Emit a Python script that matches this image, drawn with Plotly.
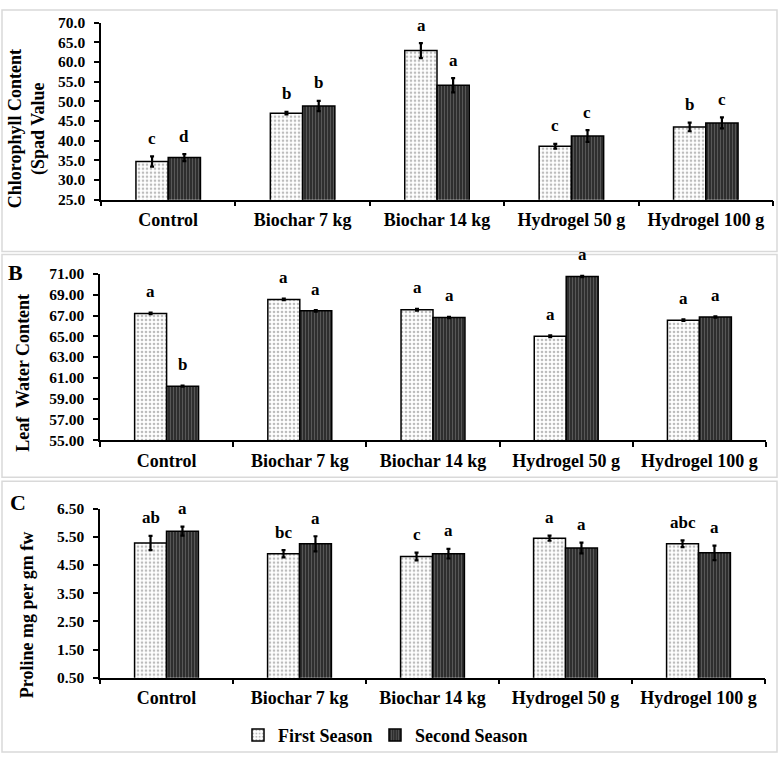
import plotly.graph_objects as go

categories = ["Control", "Biochar 7 kg", "Biochar 14 kg", "Hydrogel 50 g", "Hydrogel 100 g"]
series_names = ["First Season", "Second Season"]

# Panel A: Chlorophyll content (SPAD)
chl_first = [34.7, 47.0, 62.9, 38.6, 43.5]
chl_second = [35.7, 48.8, 54.1, 41.2, 44.5]
chl_first_err = [1.3, 0.3, 1.9, 0.6, 1.1]
chl_second_err = [0.9, 1.3, 1.8, 1.5, 1.4]
chl_first_letters = ["c", "b", "a", "c", "b"]
chl_second_letters = ["d", "b", "a", "c", "c"]

# Panel B: Leaf water content
lwc_first = [67.2, 68.55, 67.55, 65.0, 66.55]
lwc_second = [60.2, 67.45, 66.8, 70.75, 66.85]
lwc_first_err = [0.08, 0.08, 0.08, 0.08, 0.08]
lwc_second_err = [0.06, 0.08, 0.06, 0.06, 0.06]
lwc_first_letters = ["a", "a", "a", "a", "a"]
lwc_second_letters = ["b", "a", "a", "a", "a"]

# Panel C: Proline
pro_first = [5.28, 4.9, 4.8, 5.45, 5.25]
pro_second = [5.7, 5.25, 4.9, 5.1, 4.93]
pro_first_err = [0.25, 0.13, 0.14, 0.09, 0.12]
pro_second_err = [0.16, 0.27, 0.17, 0.19, 0.26]
pro_first_letters = ["ab", "bc", "c", "a", "abc"]
pro_second_letters = ["a", "a", "a", "a", "a"]

W, H = 780, 762
FONT = "'Liberation Serif', 'Times New Roman', serif"


def px_x(x):
    return x / W


def px_y(y):
    return 1 - y / H


def bold(s):
    return "<b>" + s + "</b>"


panels = [
    dict(first=chl_first, second=chl_second, fe=chl_first_err, se=chl_second_err,
         fl=chl_first_letters, sl=chl_second_letters,
         xdom=[px_x(101), px_x(773)], ydom=[px_y(195), px_y(14)],
         yrange=[25, 70], dtick=5, fmt=".1f", shift=18),
    dict(first=lwc_first, second=lwc_second, fe=lwc_first_err, se=lwc_second_err,
         fl=lwc_first_letters, sl=lwc_second_letters,
         xdom=[px_x(100), px_x(766)], ydom=[px_y(441), px_y(271)],
         yrange=[55, 71], dtick=2, fmt=".2f", shift=21),
    dict(first=pro_first, second=pro_second, fe=pro_first_err, se=pro_second_err,
         fl=pro_first_letters, sl=pro_second_letters,
         xdom=[px_x(100), px_x(765)], ydom=[px_y(684), px_y(511)],
         yrange=[0.5, 6.5], dtick=1, fmt=".2f", shift=18),
]

fig = go.Figure()
annotations = []
layout_axes = {}

first_pattern = dict(shape=".", fgcolor="#7a7a7a", bgcolor="white", size=4, solidity=0.35)
second_pattern = dict(shape="|", fgcolor="#8a8a8a", bgcolor="#2e2e2e", size=3, solidity=0.3)

for i, p in enumerate(panels):
    n = "" if i == 0 else str(i + 1)
    xa, ya = "x" + n, "y" + n
    fig.add_trace(go.Bar(
        x=categories, y=p["first"], name=bold(series_names[0]), xaxis=xa, yaxis=ya,
        marker=dict(color="white", line=dict(color="black", width=1.5), pattern=first_pattern),
        error_y=dict(type="data", array=p["fe"], color="black", thickness=2.2, width=2),
        showlegend=(i == 2), legendgroup="first", legend="legend",
    ))
    fig.add_trace(go.Bar(
        x=categories, y=p["second"], name=bold(series_names[1]), xaxis=xa, yaxis=ya,
        marker=dict(color="#2e2e2e", line=dict(color="black", width=1.5), pattern=second_pattern),
        error_y=dict(type="data", array=p["se"], color="black", thickness=2.2, width=2),
        showlegend=(i == 2), legendgroup="second", legend="legend2",
    ))
    yticks = []
    v = p["yrange"][0]
    while v <= p["yrange"][1] + 1e-9:
        yticks.append(round(v, 4))
        v += p["dtick"]
    layout_axes["xaxis" + n] = dict(
        domain=p["xdom"], anchor=ya, type="category",
        tickmode="array", tickvals=categories, ticktext=[bold(c) for c in categories],
        showline=True, linecolor="black", linewidth=1.5, mirror=False,
        ticks="outside", tickson="boundaries", ticklen=5, tickwidth=1.5, tickcolor="black",
        tickfont=dict(family=FONT, size=18, color="black"),
        ticklabelstandoff=3, showgrid=False, zeroline=False, fixedrange=True,
    )
    layout_axes["yaxis" + n] = dict(
        domain=p["ydom"], anchor=xa, range=p["yrange"],
        tickmode="array", tickvals=yticks, ticktext=[bold(format(t, p["fmt"])) for t in yticks],
        showline=True, linecolor="black", linewidth=1.5,
        ticks="outside", ticklen=5, tickwidth=1.5, tickcolor="black",
        tickfont=dict(family=FONT, size=15.5, color="black"),
        ticklabelstandoff=6, showgrid=False, zeroline=False, fixedrange=True,
    )
    for c, v, e, t in zip(categories, p["first"], p["fe"], p["fl"]):
        annotations.append(dict(x=c, y=v + e, xref=xa, yref=ya, text=bold(t), showarrow=False,
                                xshift=-16, yshift=p["shift"], xanchor="center", yanchor="middle",
                                font=dict(family=FONT, size=17, color="black")))
    for c, v, e, t in zip(categories, p["second"], p["se"], p["sl"]):
        annotations.append(dict(x=c, y=v + e, xref=xa, yref=ya, text=bold(t), showarrow=False,
                                xshift=16, yshift=p["shift"], xanchor="center", yanchor="middle",
                                font=dict(family=FONT, size=17, color="black")))

title_font = dict(family=FONT, size=18, color="black")
annotations += [
    dict(x=px_x(27), y=px_y(123), xref="paper", yref="paper", showarrow=False, textangle=-90,
         xanchor="center", yanchor="middle",
         text=bold("Chlorophyll Content") + "<br>" + bold("(Spad Value"), font=title_font, align="center"),
    dict(x=px_x(23), y=px_y(372), xref="paper", yref="paper", showarrow=False, textangle=-90,
         xanchor="center", yanchor="middle",
         text=bold("Leaf  Water Content"), font=title_font),
    dict(x=px_x(27), y=px_y(620), xref="paper", yref="paper", showarrow=False, textangle=-90,
         xanchor="center", yanchor="middle",
         text=bold("Proline mg per gm fw"), font=title_font),
    dict(x=px_x(15), y=px_y(270), xref="paper", yref="paper", showarrow=False,
         xanchor="center", yanchor="middle",
         text=bold("B"), font=dict(family=FONT, size=22, color="black")),
    dict(x=px_x(18), y=px_y(505), xref="paper", yref="paper", showarrow=False,
         xanchor="center", yanchor="middle",
         text=bold("C"), font=dict(family=FONT, size=22, color="black")),
]

frame_color = "#d9d9d9"
shapes = [
    dict(type="rect", xref="paper", yref="paper", x0=px_x(2), x1=px_x(777), y0=px_y(248), y1=px_y(1),
         line=dict(color=frame_color, width=1.5)),
    dict(type="rect", xref="paper", yref="paper", x0=px_x(2), x1=px_x(777), y0=px_y(479), y1=px_y(251),
         line=dict(color=frame_color, width=1.5)),
    dict(type="rect", xref="paper", yref="paper", x0=px_x(2), x1=px_x(777), y0=px_y(760), y1=px_y(483),
         line=dict(color=frame_color, width=1.5)),
]

legend_font = dict(family=FONT, size=18, color="black")
fig.update_layout(
    width=W, height=H, margin=dict(l=0, r=0, t=0, b=0),
    paper_bgcolor="white", plot_bgcolor="white",
    barmode="group", bargap=0.52, bargroupgap=0,
    showlegend=True,
    legend=dict(orientation="h", x=px_x(238), y=px_y(743), xanchor="left", yanchor="middle",
                font=legend_font, bgcolor="rgba(0,0,0,0)", itemwidth=30),
    legend2=dict(orientation="h", x=px_x(375), y=px_y(743), xanchor="left", yanchor="middle",
                 font=legend_font, bgcolor="rgba(0,0,0,0)", itemwidth=30),
    annotations=annotations, shapes=shapes,
    **layout_axes,
)

fig.write_html("out.html")
